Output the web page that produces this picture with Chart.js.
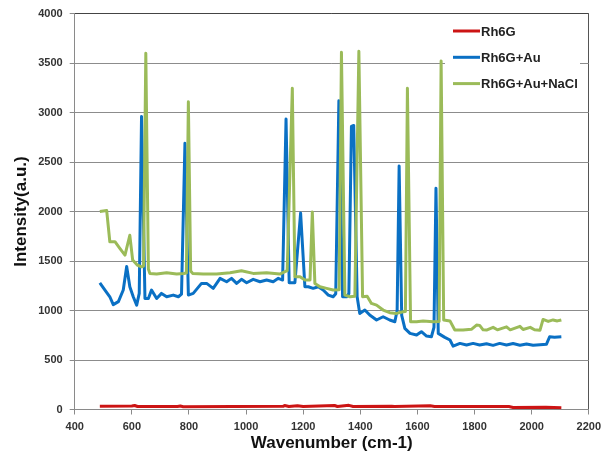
<!DOCTYPE html>
<html>
<head>
<meta charset="utf-8">
<script src="https://cdn.jsdelivr.net/npm/chart.js@4/dist/chart.umd.min.js"></script>
<style>
  html, body { margin: 0; padding: 0; background: #fff; }
  #wrap { width: 607px; height: 457px; }
</style>
</head>
<body>
<div id="wrap"><canvas id="spectra" width="607" height="457"></canvas></div>
<script>
// series names
const seriesNames = ['Rh6G', 'Rh6G+Au', 'Rh6G+Au+NaCl'];

// Rh6G (red) - wavenumber / intensity
const wnRh6G = [488, 600, 610, 620, 760, 770, 780, 1130, 1135, 1150, 1180, 1200, 1310, 1320, 1360, 1375, 1510, 1520, 1645, 1660, 1920, 1935, 2050, 2104];
const inRh6G = [32, 35, 40, 30, 30, 35, 28, 32, 40, 30, 38, 30, 40, 30, 42, 30, 32, 30, 38, 30, 30, 20, 22, 18];

// Rh6G+Au (blue)
const wnAu = [488, 506, 523, 535, 553, 570, 582, 593, 605, 617, 626, 634, 646, 658, 669, 687, 704, 722, 745, 763,
  774, 786, 798, 815, 844, 862, 885, 909, 932, 949, 967, 984, 1002, 1025, 1049, 1072, 1095, 1113, 1128, 1140,
  1151, 1171, 1191, 1206, 1218, 1235, 1253, 1270, 1288, 1305, 1314, 1325, 1338, 1352, 1360, 1369, 1377, 1389, 1398, 1416,
  1433, 1457, 1480, 1503, 1521, 1529, 1536, 1545, 1556, 1574, 1597, 1614, 1632, 1649, 1658, 1665, 1673, 1696, 1714, 1725,
  1749, 1772, 1795, 1818, 1842, 1865, 1888, 1912, 1935, 1959, 1982, 2005, 2029, 2052, 2063, 2080, 2104];
const inAu = [1280, 1207, 1139, 1060, 1090, 1207, 1445, 1240, 1139, 1055, 1173, 2960, 1122, 1122, 1207, 1122, 1173, 1139, 1156, 1139,
  1166, 2690, 1156, 1173, 1274, 1274, 1224, 1325, 1291, 1325, 1274, 1315, 1281, 1315, 1291, 1308, 1291, 1325, 1308, 2935,
  1281, 1281, 1985, 1240, 1240, 1224, 1240, 1207, 1156, 1139, 1170, 3120, 1139, 1139, 1170, 2860, 2870, 1139, 971, 1005,
  954, 904, 937, 904, 887, 1000, 2460, 950, 820, 769, 752, 786, 742, 735, 830, 2235, 769, 729, 702, 640,
  668, 651, 668, 651, 665, 648, 668, 652, 666, 650, 662, 650, 655, 660, 735, 730, 735];

// Rh6G+Au+NaCl (green)
const wnNaCl = [488, 512, 523, 541, 558, 576, 593, 603, 619, 634, 641, 649, 658, 663, 687, 722, 757, 782, 791, 798,
  806, 813, 850, 897, 944, 984, 1025, 1072, 1118, 1144, 1162, 1171, 1189, 1206, 1224, 1232, 1241, 1259, 1282, 1305,
  1326, 1334, 1346, 1364, 1381, 1395, 1408, 1424, 1439, 1457, 1480, 1503, 1527, 1550, 1558, 1565, 1576, 1597, 1620, 1655,
  1676, 1683, 1692, 1714, 1731, 1760, 1789, 1807, 1818, 1830, 1842, 1865, 1880, 1912, 1925, 1959, 1970, 1995, 2010, 2029,
  2040, 2058, 2075, 2090, 2104];
const inNaCl = [2000, 2010, 1695, 1695, 1628, 1560, 1760, 1510, 1460, 1442, 1450, 3600, 1420, 1375, 1368, 1382, 1368, 1375, 1380, 3110,
  1400, 1375, 1368, 1368, 1382, 1402, 1375, 1382, 1368, 1402, 3245, 1341, 1341, 1308, 1308, 1995, 1274, 1240, 1224, 1207,
  1210, 3610, 1156, 1139, 1145, 3620, 1139, 1145, 1072, 1055, 1005, 978, 971, 988, 990, 3245, 887, 887, 895, 887,
  890, 3520, 904, 895, 803, 803, 810, 853, 850, 805, 803, 830, 805, 835, 805, 840, 808, 830, 805, 800,
  910, 890, 905, 895, 905];

// axis ticks
const xTicks = [400, 600, 800, 1000, 1200, 1400, 1600, 1800, 2000, 2200];
const yTicks = [0, 500, 1000, 1500, 2000, 2500, 3000, 3500, 4000];

const colors = ['#cc1414', '#0a70c4', '#9bbb59'];

function toPoints(xs, ys) {
    return xs.map((x, i) => ({ x: x, y: ys[i] }));
}

// legend drawn inside the plot area, top right
const insideLegend = {
    id: 'insideLegend',
    afterDatasetsDraw(chart) {
        const ctx = chart.ctx;
        ctx.save();
        ctx.fillStyle = '#fff';
        ctx.fillRect(445, 16, 135, 88);
        ctx.font = 'bold 13px "Liberation Sans", Arial, sans-serif';
        ctx.textBaseline = 'middle';
        chart.data.datasets.forEach((ds, i) => {
            const y = 31 + i * 26.3;
            ctx.strokeStyle = ds.borderColor;
            ctx.lineWidth = 3;
            ctx.beginPath();
            ctx.moveTo(453, y);
            ctx.lineTo(480, y);
            ctx.stroke();
            ctx.fillStyle = '#222';
            ctx.fillText(ds.label, 481, y + 1);
        });
        ctx.restore();
    }
};

const tickFont = { family: '"Liberation Sans", Arial, sans-serif', size: 11, weight: 'bold' };
const titleFont = { family: '"Liberation Sans", Arial, sans-serif', size: 17, weight: 'bold' };

const canvas = document.getElementById('spectra').getContext('2d');
const spectraChart = new Chart(canvas, {
    type: 'line',
    data: {
        datasets: [
            { label: seriesNames[0], data: toPoints(wnRh6G, inRh6G), borderColor: colors[0], order: 2 },
            { label: seriesNames[1], data: toPoints(wnAu, inAu), borderColor: colors[1], order: 1 },
            { label: seriesNames[2], data: toPoints(wnNaCl, inNaCl), borderColor: colors[2], order: 0 }
        ]
    },
    options: {
        responsive: false,
        animation: false,
        elements: {
            point: { radius: 0 },
            line: { borderWidth: 3, tension: 0, fill: false, borderJoinStyle: 'round' }
        },
        layout: { padding: { left: 0, right: 18, top: 13, bottom: 0 } },
        plugins: {
            legend: { display: false },
            tooltip: { enabled: false }
        },
        scales: {
            x: {
                type: 'linear',
                min: xTicks[0],
                max: xTicks[xTicks.length - 1],
                afterBuildTicks: (scale) => { scale.ticks = xTicks.map(v => ({ value: v })); },
                afterFit: (scale) => { scale.height = 47.5; },
                grid: {
                    color: (c) => (c.tick && c.tick.value === 2200) ? '#555' : 'rgba(0,0,0,0)',
                    tickColor: '#8a8a8a',
                    tickLength: 5,
                    lineWidth: 1
                },
                border: { color: '#8a8a8a' },
                ticks: {
                    padding: 6,
                    color: '#333',
                    font: tickFont,
                    maxRotation: 0,
                    callback: (v) => String(v)
                },
                title: {
                    display: true,
                    text: 'Wavenumber (cm-1)',
                    color: '#111',
                    font: titleFont,
                    padding: { top: 0, bottom: 3 }
                }
            },
            y: {
                min: yTicks[0],
                max: yTicks[yTicks.length - 1],
                afterBuildTicks: (scale) => { scale.ticks = yTicks.map(v => ({ value: v })); },
                afterFit: (scale) => { scale.width = 74.7; },
                grid: {
                    color: (c) => (c.tick && c.tick.value === 4000) ? '#444' : '#8c8c8c',
                    tickColor: '#8a8a8a',
                    tickLength: 5,
                    lineWidth: 1
                },
                border: { color: '#8a8a8a' },
                ticks: {
                    padding: 7,
                    color: '#333',
                    font: tickFont,
                    callback: (v) => String(v)
                },
                title: {
                    display: true,
                    text: 'Intensity(a.u.)',
                    color: '#111',
                    font: titleFont,
                    padding: { top: 11, bottom: 0 }
                }
            }
        }
    },
    plugins: [insideLegend]
});
</script>
</body>
</html>
